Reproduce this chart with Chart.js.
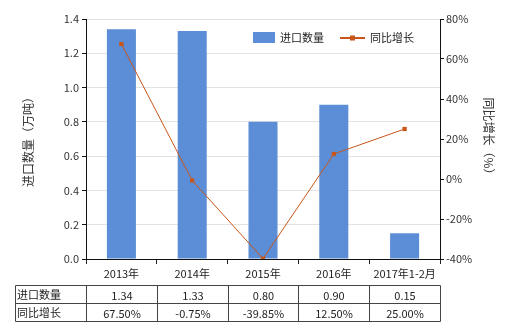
<!DOCTYPE html>
<html><head><meta charset="utf-8">
<script src="https://cdn.jsdelivr.net/npm/chart.js@4/dist/chart.umd.min.js"></script>
<style>html,body{margin:0;padding:0;background:#fff}#wrap{width:520px;height:330px}</style>
</head><body><div id="wrap"><canvas id="c" width="520" height="330"></canvas></div>
<script>
const categories = ["2013年","2014年","2015年","2016年","2017年1-2月"];
const importQty = [1.34,1.33,0.80,0.90,0.15];
const yoyGrowth = [67.50,-0.75,-39.85,12.50,25.00];
const qtyLabels = ["1.34","1.33","0.80","0.90","0.15"];
const yoyLabels = ["67.50%","-0.75%","-39.85%","12.50%","25.00%"];
const seriesNames = ["进口数量","同比增长"];
const leftTitle = "进口数量（万吨）";
const rightTitle = "同比增长（%）";

const FONT = "'Noto Sans CJK SC', 'Noto Sans', sans-serif";
const BAR = "#5B8ED6";
const LINE = "#C8561A";

const extras = {
  id:'extras',
  afterDraw(chart){
    const ctx = chart.ctx, x = chart.scales.x, a = chart.chartArea;
    ctx.save();
    ctx.fillStyle = "#333"; ctx.font = "12px " + FONT;
    ctx.textAlign = "center"; ctx.textBaseline = "middle";
    ctx.save(); ctx.translate(28, (a.top+a.bottom)/2); ctx.rotate(-Math.PI/2);
    ctx.fillText(leftTitle, 0, 0); ctx.restore();
    ctx.save(); ctx.translate(489, (a.top+a.bottom)/2); ctx.rotate(Math.PI/2);
    ctx.fillText(rightTitle, 0, 0); ctx.restore();
    ctx.fillStyle = BAR; ctx.fillRect(253, 32, 22, 11);
    ctx.fillStyle = "#222"; ctx.textAlign = "left"; ctx.font = "11px " + FONT;
    ctx.fillText(seriesNames[0], 280, 38);
    ctx.strokeStyle = LINE; ctx.lineWidth = 2;
    ctx.beginPath(); ctx.moveTo(340, 38); ctx.lineTo(365, 38); ctx.stroke();
    ctx.fillStyle = LINE; ctx.fillRect(350, 35.5, 5, 5);
    ctx.fillStyle = "#222"; ctx.fillText(seriesNames[1], 370, 38);
    const n = categories.length;
    const step = (x.getPixelForValue(1) - x.getPixelForValue(0));
    const bounds = [];
    for (let i=0;i<=n;i++) bounds.push(Math.round(x.getPixelForValue(i) - step/2) + 0.5);
    const left = 15.5, y0 = 285.5, y1 = 303.5, y2 = 321.5;
    ctx.strokeStyle = "#444"; ctx.lineWidth = 1;
    ctx.beginPath();
    [y0,y1,y2].forEach(y=>{ctx.moveTo(left,y);ctx.lineTo(bounds[n],y);});
    ctx.moveTo(left,y0); ctx.lineTo(left,y2);
    bounds.forEach(b=>{ctx.moveTo(b,y0);ctx.lineTo(b,y2);});
    ctx.stroke();
    ctx.fillStyle = "#222"; ctx.font = "11px " + FONT; ctx.textBaseline = "middle";
    ctx.textAlign = "left";
    ctx.fillText(seriesNames[0], 17, (y0+y1)/2);
    ctx.fillText(seriesNames[1], 17, (y1+y2)/2);
    ctx.textAlign = "center";
    for (let i=0;i<n;i++){
      const cx = (bounds[i]+bounds[i+1])/2;
      ctx.fillText(qtyLabels[i], cx, (y0+y1)/2+1);
      ctx.fillText(yoyLabels[i], cx, (y1+y2)/2+1);
    }
    ctx.restore();
  }
};

new Chart(document.getElementById('c'), {
  data: {
    labels: categories,
    datasets: [
      {type:'line', label:seriesNames[1], data:yoyGrowth, yAxisID:'y2', borderColor:LINE, backgroundColor:LINE,
       borderWidth:1, pointStyle:'rect', pointRadius:3, pointBorderWidth:0, tension:0, order:0},
      {type:'bar', label:seriesNames[0], data:importQty, yAxisID:'y', backgroundColor:BAR,
       barPercentage:0.41, categoryPercentage:1.0, order:1}
    ]
  },
  options: {
    responsive:false, animation:false, devicePixelRatio:1,
    layout:{padding:{top:19,left:0,right:0,bottom:0}},
    plugins:{legend:{display:false}, tooltip:{enabled:false}},
    scales:{
      x:{
        offset:true,
        grid:{offset:true, drawOnChartArea:false, drawTicks:true, tickLength:5, color:"#222"},
        border:{color:"#111", width:1},
        ticks:{color:"#222", font:{size:11, family:FONT}, padding:3, maxRotation:0, autoSkip:false},
        afterFit(s){ s.height = 71; }
      },
      y:{
        position:'left', min:0, max:1.4,
        ticks:{stepSize:0.2, color:"#333", font:{size:11, family:FONT}, padding:3,
               callback:v=>Number(v).toFixed(1)},
        grid:{color:"#e3e3e3", tickColor:"#111", tickLength:4, drawTicks:true},
        border:{color:"#111", width:1},
        afterFit(s){ s.width = 86; }
      },
      y2:{
        position:'right', min:-40, max:80,
        ticks:{stepSize:20, color:"#333", font:{size:11, family:FONT}, padding:2,
               callback:v=>v+"%"},
        grid:{drawOnChartArea:false, tickColor:"#111", tickLength:4},
        border:{color:"#111", width:1},
        afterFit(s){ s.width = 80; }
      }
    }
  },
  plugins:[extras]
});
</script></body></html>
